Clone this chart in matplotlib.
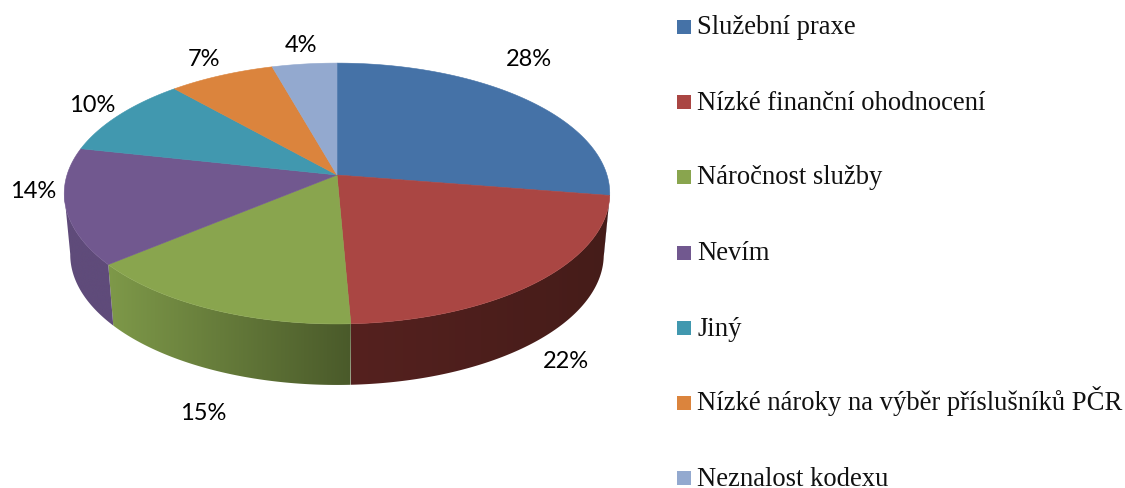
import numpy as np
import matplotlib
matplotlib.use("Agg")
import matplotlib.pyplot as plt
from matplotlib.patches import Polygon, Rectangle

names = ['Služební praxe', 'Nízké finanční ohodnocení', 'Náročnost služby', 'Nevím', 'Jiný',
         'Nízké nároky na výběr příslušníků PČR', 'Neznalost kodexu']
# hodnoty odhadnute z obrazku, popisky jsou zaokrouhlene
values = [27.5, 21.8, 14.7, 14.4, 10.0, 7.2, 4.4]
colors = ['#4572a7', '#aa4643', '#89a54e', '#71588f', '#4198af', '#db843d', '#93a9cf']
side_left = ['#4572a7', '#55211f', '#7e9949', '#5f4b7a', '#3c8ca0', '#c97a38', '#8a9fc4']
side_right = ['#4572a7', '#451c19', '#4a5a2a', '#5f4b7a', '#3c8ca0', '#c97a38', '#8a9fc4']
label_pos = [(529, 60), (566, 362), (203, 413), (33, 191), (92, 105), (204, 60), (301, 46)]
legend_y = [27, 102, 177, 253, 328, 403, 478]

cx, cy = 337, 175
A, B, p = 270, 127.8, 0.142
depth = 61
shrink = 0.978


def top_xy(theta):
    # kruh v perspektive, theta po smeru hodin od horniho bodu
    u, v = np.sin(theta), np.cos(theta)
    w = 1 + p * v
    return cx + A * u / w, cy - B * v / w


def bottom_xy(theta):
    x, y = top_xy(theta)
    return cx + (x - cx) * shrink, y + depth


fig = plt.figure(figsize=(11.25, 4.88), dpi=100)
ax = fig.add_axes([0, 0, 1, 1])

edges = np.cumsum([0] + values) / sum(values) * 2 * np.pi

# bocni stena, prechod barev jde zleva doprava
for i in range(len(values)):
    a0v, a1v = max(edges[i], np.radians(98)), min(edges[i + 1], np.radians(262))
    if a1v <= a0v:
        continue
    th = np.linspace(a0v, a1v, 120)
    xt, yt = top_xy(th)
    xb, yb = bottom_xy(th)
    pts = list(zip(xt, yt)) + list(zip(xb[::-1], yb[::-1]))
    xmin, xmax = min(np.min(xt), np.min(xb)), max(np.max(xt), np.max(xb))
    ymin, ymax = min(np.min(yt), np.min(yb)), max(np.max(yt), np.max(yb))
    c0 = np.array(matplotlib.colors.to_rgb(side_left[i]))
    c1 = np.array(matplotlib.colors.to_rgb(side_right[i]))
    t = np.linspace(0, 1, 256)[:, None]
    grad = (c0 * (1 - t) + c1 * t)[None, :, :]
    im = ax.imshow(grad, extent=(xmin, xmax, ymax, ymin), aspect='auto', zorder=2,
                   interpolation='bilinear')
    clip = Polygon(pts, closed=True, transform=ax.transData, facecolor='none', edgecolor='none')
    ax.add_patch(clip)
    im.set_clip_path(clip)

# horni plocha
for i in range(len(values)):
    th = np.linspace(edges[i], edges[i + 1], 80)
    xs, ys = top_xy(th)
    pts = [(cx, cy)] + list(zip(xs, ys))
    ax.add_patch(Polygon(pts, closed=True, facecolor=colors[i], edgecolor=colors[i],
                         linewidth=0.4, zorder=3))

for v, (lx, ly) in zip(values, label_pos):
    ax.text(lx, ly, '%d%%' % round(v), ha='center', va='center', fontsize=17,
            family='Lato', color='black', zorder=5)

# legenda
for name, col, ly in zip(names, colors, legend_y):
    ax.add_patch(Rectangle((677, ly - 7), 14, 14, facecolor=col, edgecolor='none'))
    ax.text(697, ly + 7.5, name, ha='left', va='baseline', fontsize=19.2,
            family='Liberation Serif', color='#111111')

ax.set_xlim(0, 1125)
ax.set_ylim(488, 0)
ax.axis('off')

plt.savefig('out.png', dpi=100)
